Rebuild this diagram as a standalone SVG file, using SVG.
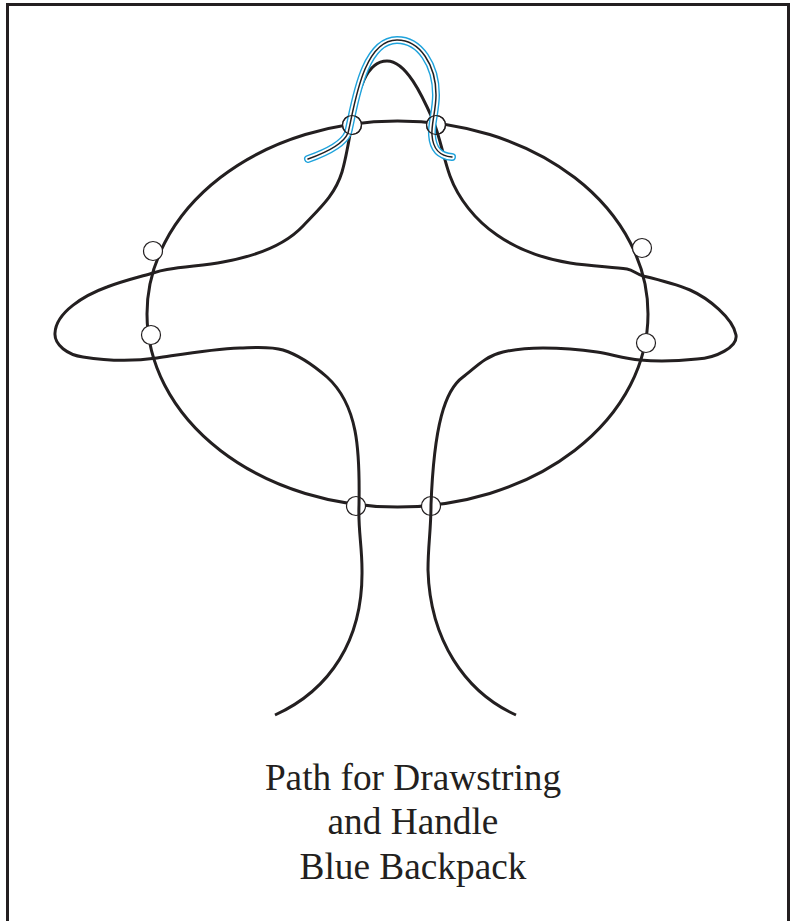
<svg xmlns="http://www.w3.org/2000/svg" width="791" height="921" viewBox="0 0 791 921">
<style>
.l{fill:none;stroke:#231f20;stroke-width:3;stroke-linecap:butt}
.c{fill:#fff;stroke:#231f20;stroke-width:1.200}
.o{fill:none;stroke:#231f20;stroke-width:1.200}
.t{font-family:"Liberation Serif","Times New Roman",serif;font-size:37.300px;fill:#231f20;text-anchor:middle}
</style>
<defs>
<path id="hp" d="M308 159C325 153 343 145 348 133C354 110 362 40 397 40C420 40 436 65 436 95C436 110 431 125 432 135C433 150 440 156 452 157"/>
</defs>
<rect width="791" height="921" fill="#fff"/>
<path id="border" d="M7.500 921V4.500H788.500V921" fill="none" stroke="#231f20" stroke-width="3"/>
<g id="connectors">
<ellipse id="ring" class="l" cx="397.500" cy="314" rx="250.500" ry="193"/>
</g>
<g id="eyelet-left-upper"><circle class="c" cx="153" cy="251" r="9.500"/></g>
<g id="eyelet-left-lower"><circle class="c" cx="151" cy="335" r="9.500"/></g>
<g id="eyelet-right-upper"><circle class="c" cx="642" cy="248" r="9.500"/></g>
<g id="eyelet-right-lower"><circle class="c" cx="646" cy="343" r="9.500"/></g>
<g id="eyelet-top-left"><circle class="c" cx="352" cy="125" r="9.500"/></g>
<g id="eyelet-top-right"><circle class="c" cx="436" cy="125" r="9.500"/></g>
<g id="eyelet-bottom-left"><circle class="c" cx="356" cy="506" r="9.500"/></g>
<g id="eyelet-bottom-right"><circle class="c" cx="431" cy="506" r="9.500"/></g>
<g id="drawstring">
<path class="l" d="M275 715C330 690 363 640 362 570C362 545 358 530 359 505C360 450 358 405 327 377C312 364 299 355 283 350C270 346 254 347.600 240 348C212 349 184 354 157 358C133 361.500 108 361 83 357C68 355 54 345 55 333C56 312 85 295 107 287C121 281.500 139 277 153 273C157 271.700 162 270.300 167 269.500C186 266.200 205 265.500 223 262C262 255 287 243 303 226C320 208 335 195 342 172C347 155 350 133 353 118C358 92 366 61 387 61C406 61 422 95 433 120C440 137 444 160 450 176C458 198 475 220 497 235C520 251 545 259 570 263C590 266 612 267 627 269C633 270 637 274.500 643 276C658 279.500 676 284 690 290C708 298 733 318 736 335C738 347 716 358 697 359C678 361 656 361.500 640 360C625 358.500 612 354.500 597 352C580 349.500 561 348 543 348C529 348 516 349 503 352C485 356 475 368 463 377C445 390 434 425 431 505C431 530 428 545 428 570C430 640 465 692 516 715"/>
</g>
<g id="handle" fill="none" stroke-linecap="round" stroke-linejoin="round">
<use href="#hp" stroke="#1fa3dc" stroke-width="8"/>
<use href="#hp" stroke="#fff" stroke-width="5.200"/>
<use href="#hp" stroke="#231f20" stroke-width="1.500"/>
</g>
<circle class="o" cx="352" cy="125" r="9.500"/>
<circle class="o" cx="436" cy="125" r="9.500"/>
<g id="caption">
<text class="t" x="413" y="790">Path for Drawstring</text>
<text class="t" x="413" y="834">and Handle</text>
<text class="t" x="413" y="879">Blue Backpack</text>
</g>
</svg>
